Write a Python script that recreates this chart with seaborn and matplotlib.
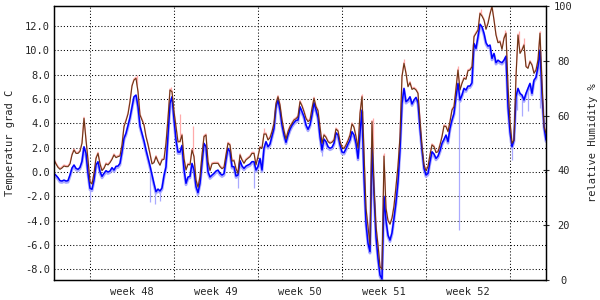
import numpy as np
import pandas as pd
import matplotlib
matplotlib.use("Agg")
import matplotlib.pyplot as plt
import matplotlib.dates as mdates
import matplotlib.transforms as mtransforms
from matplotlib.ticker import FixedLocator, NullFormatter, FixedFormatter
import seaborn as sns

# ---------------- data ----------------
start = "2009-11-20 00:00"
step = "4h"

# brown series (temperature, average)
temp_a = [
    0.99, 0.66, 0.38, 0.22, 0.33, 0.49, 0.44, 0.44, 0.66, 1.40, 1.81, 1.53, 1.53, 1.70, 2.36, 4.41, 2.63, 0.99, -0.79, -0.99,
    -0.11, 1.12, 1.53, 0.66, 0.11, 0.30, 0.66, 0.58, 0.77, 1.04, 1.40, 1.18, 1.26, 1.32, 2.22, 3.73, 4.22, 4.77, 5.78, 7.07, 7.56,
    7.70, 6.60, 4.69, 4.27, 3.86, 2.91, 2.25, 1.48, 0.66, 0.77, 1.26, 0.85, 0.55, 0.99, 1.04, 2.36, 4.41, 6.74, 6.60, 4.96,
    3.73, 2.47, 2.50, 3.04, 1.10, 0.16, 0.63, 0.58, 1.81, 1.26, -0.66, -1.26, -0.38, 1.37, 2.91, 3.04, 0.85, 0.11, 0.66, 0.71, 0.71,
    0.71, 0.44, 0.27, 0.38, 1.40, 2.36, 2.22, 0.90, 0.93, 0.27, -0.11, 1.40, 0.99, 0.71, 0.99, 1.12, 1.26, 1.53, 1.53, 0.58,
    1.26, 2.03, 1.95, 3.12, 3.12, 2.63, 2.82, 3.32, 4.00, 5.64, 6.19, 5.51, 4.27, 3.40, 2.71, 3.32, 3.73, 4.00, 4.27, 4.38, 4.55,
    5.78, 5.43, 4.96, 4.41, 4.14, 4.27, 5.23, 6.06, 5.37, 5.04, 3.73, 2.36, 3.04, 2.85, 2.50, 2.36, 2.44, 2.63, 3.53, 3.37,
    2.50, 2.03, 1.92, 2.22, 2.58, 3.04, 3.95, 3.67, 2.91, 1.95, 4.82, 6.19, 1.53, -2.99, -4.49, -6.00, 4.14, -1.20, -4.49, -6.00, -7.78,
    -8.00, 1.30, -3.00, -4.00, -4.30, -3.80, -2.80, -1.20, 0.50, 2.90, 7.84, 8.93, 8.11, 7.01, 7.34, 6.79, 6.88, 6.74, 6.46, 4.27,
    2.08, 0.57, 0.11, 0.44, 1.40, 2.22, 2.08, 1.59, 1.67, 2.22, 2.90, 3.78, 3.73, 3.31, 4.14, 5.10, 5.37, 6.88, 8.38, 6.74, 7.29,
    7.70, 7.62, 8.33, 8.38, 8.66, 11.12, 11.40, 11.67, 13.04, 12.82, 12.49, 11.73, 12.22, 12.99, 13.59, 12.49, 11.26, 10.63, 10.71, 10.08,
    10.99, 11.40, 7.01, 4.14, 2.36, 2.63, 7.84, 11.26, 9.75, 10.03, 10.44, 8.66, 8.52, 9.07, 8.79, 8.11, 8.38, 9.20, 11.40, 7.29, 3.73, 3.18,
]

# blue series (second temperature)
temp_b = [
    -0.11, -0.27, -0.46, -0.71, -0.74, -0.66, -0.74, -0.71, -0.25, 0.33, 0.58, 0.30, 0.22, 0.38, 0.88, 2.08, 1.53, -0.11, -1.34, -1.42,
    -0.66, 0.58, 0.85, 0.03, -0.36, -0.11, 0.11, 0.00, 0.08, 0.36, 0.16, 0.47, 0.49, 0.71, 1.64, 2.77, 3.18, 3.81, 4.47, 5.34, 6.19,
    6.33, 5.37, 3.78, 3.18, 2.55, 1.81, 1.15, 0.49, -0.25, -0.96, -1.62, -1.40, -1.56, -1.31, -0.30, 0.44, 3.07, 5.64, 6.19, 4.33,
    2.63, 1.64, 1.64, 2.19, 0.22, -0.93, -0.41, -0.36, 0.71, 0.16, -1.20, -1.70, -0.93, 0.71, 2.36, 2.08, 0.03, -0.41, -0.25, -0.11, 0.08,
    0.16, -0.11, -0.25, -0.14, 0.99, 1.95, 1.67, 0.44, 0.44, -0.33, -0.25, 0.93, 0.49, 0.30, 0.49, 0.58, 0.66, 0.85, 0.85, 0.16,
    0.44, 1.12, 0.16, 1.95, 2.50, 2.08, 2.30, 2.96, 3.59, 5.37, 5.92, 5.10, 3.86, 3.04, 2.44, 3.04, 3.51, 3.84, 4.06, 4.25, 4.27,
    5.37, 4.96, 4.55, 3.86, 3.51, 3.86, 4.69, 5.70, 5.10, 4.49, 2.91, 1.81, 2.71, 2.50, 2.08, 1.95, 2.03, 2.36, 3.23, 3.04,
    2.22, 1.64, 1.59, 1.92, 2.30, 2.63, 3.32, 3.04, 2.36, 1.12, 3.18, 5.10, -0.38, -4.22, -5.86, -6.55, 2.08, -1.75, -5.31, -7.10, -8.47,
    -8.80, -2.00, -4.00, -5.20, -5.60, -5.00, -3.80, -2.50, -0.80, 1.80, 5.64, 6.88, 5.78, 5.92, 6.19, 5.59, 5.92, 6.14, 5.70, 3.59,
    1.81, 0.30, -0.25, -0.11, 0.85, 1.67, 1.48, 1.12, 1.31, 1.75, 2.36, 2.68, 3.04, 2.49, 3.59, 4.27, 4.82, 6.19, 7.29, 5.92, 6.33,
    6.88, 6.74, 7.07, 7.07, 7.34, 10.57, 10.16, 11.12, 12.16, 11.94, 11.40, 10.63, 10.35, 10.44, 9.34, 9.75, 8.99, 9.20, 9.07, 8.99,
    9.20, 9.53, 5.37, 3.31, 2.08, 2.63, 6.19, 6.88, 6.46, 6.33, 5.92, 6.46, 6.88, 7.29, 6.46, 7.56, 7.78, 8.66, 10.03, 6.46, 3.73, 2.63,
]

# maximum spikes above the brown line (days after start, value)
max_spike_days = [6.92, 9.75, 10.5, 11.56, 17.5, 25.64, 26.58, 27.5, 29.17, 33.67, 35.58, 37.58, 38.75, 39.17, 40.5]
max_spike_vals = [8.0, 7.0, 4.8, 3.8, 3.6, 6.4, 4.4, 1.6, 9.3, 8.7, 13.4, 11.7, 11.6, 11.0, 11.6]

# minimum spikes below the blue line (days after start, value)
min_spike_days = [3.0, 8.0, 8.42, 8.83, 11.92, 15.33, 16.67, 22.33, 33.72, 38.17, 38.58, 39.0, 39.5, 40.5]
min_spike_vals = [-2.3, -2.5, -2.6, -2.4, -2.0, -1.3, -1.3, 1.3, -4.8, 1.0, 5.1, 4.6, 5.0, 5.3]

week_labels = ["week 48", "week 49", "week 50", "week 51", "week 52"]
temp_ticks = [-8, -6, -4, -2, 0, 2, 4, 6, 8, 10, 12]
hum_ticks = [0, 20, 40, 60, 80, 100]

# ---------------- figure ----------------
times = pd.date_range(start, periods=len(temp_a), freq=step)
df = pd.DataFrame({"time": times, "a": temp_a, "b": temp_b})

sns.set_style("white")
plt.rcParams["font.family"] = ["DejaVu Sans Mono"]
plt.rcParams["axes.unicode_minus"] = False
plt.rcParams["font.size"] = 7.5

fig = plt.figure(figsize=(6, 3), dpi=100)
ax = fig.add_axes([54 / 600, 20 / 300, 492 / 600, 274 / 300])

PINK = "#ffaaaa"
LBLUE = "#aaaaff"
BROWN = "#6a3414"
BLUE = "#0000ff"

t0 = pd.Timestamp(start)
xnum = mdates.date2num(times)

# light halos (min / max bands)
up = mtransforms.offset_copy(ax.transData, fig=fig, x=0, y=1.0, units="dots")
down = mtransforms.offset_copy(ax.transData, fig=fig, x=0, y=-1.5, units="dots")
sns.lineplot(data=df, x="time", y="b", ax=ax, color=LBLUE, linewidth=2.0, transform=down)
sns.lineplot(data=df, x="time", y="a", ax=ax, color=PINK, linewidth=1.0, transform=up)

# spikes
mn_x = mdates.date2num([t0 + pd.Timedelta(days=d) for d in min_spike_days])
ax.vlines(mn_x, min_spike_vals, np.interp(mn_x, xnum, temp_b), color=LBLUE, linewidth=0.9, zorder=2)
mx_x = mdates.date2num([t0 + pd.Timedelta(days=d) for d in max_spike_days])
ax.vlines(mx_x, np.interp(mx_x, xnum, temp_a), max_spike_vals, color=PINK, linewidth=0.9, zorder=2)

sns.lineplot(data=df, x="time", y="b", ax=ax, color=BLUE, linewidth=1.1)
sns.lineplot(data=df, x="time", y="a", ax=ax, color=BROWN, linewidth=0.8)

ax.set_xlim(times[0], times[-1])
ax.set_ylim(-8.88, 13.65)

# x axis: week boundaries (Mondays) as major ticks, labels mid-week
mondays = [t0 + pd.Timedelta(days=3 + 7 * k) for k in range(6)]
mids = [t0 + pd.Timedelta(days=3 + 3.5 + 7 * k) for k in range(len(week_labels))]
ax.xaxis.set_major_locator(FixedLocator(mdates.date2num(mondays)))
ax.xaxis.set_major_formatter(NullFormatter())
ax.xaxis.set_minor_locator(FixedLocator(mdates.date2num(mids)))
ax.xaxis.set_minor_formatter(FixedFormatter(week_labels))
ax.tick_params(axis="x", which="major", direction="inout", length=5, width=0.8, color="black")
ax.tick_params(axis="x", which="minor", length=0, pad=5, labelsize=7.5)

ax.set_yticks(temp_ticks)
ax.set_yticklabels([f"{v:.1f}" for v in temp_ticks])
ax.tick_params(axis="y", length=0, pad=3, labelsize=7.5)

ax.grid(True, which="major", color="black", linestyle=(0, (1, 2)), linewidth=0.75)
for s in ax.spines.values():
    s.set_color("black")
    s.set_linewidth(0.9)

ax.set_xlabel("")
ax.set_ylabel("Temperatur grad C", fontsize=7.5, labelpad=7)

ax2 = ax.twinx()
ax2.set_ylim(0, 100)
ax2.set_yticks(hum_ticks)
ax2.set_yticklabels([str(v) for v in hum_ticks])
for lab in ax2.get_yticklabels():
    lab.set_horizontalalignment("center")
ax2.tick_params(axis="y", direction="inout", length=5, width=0.8, pad=10, labelsize=7.5)
ax2.set_ylabel("relative Humidity %", fontsize=7.5, labelpad=11)
ax2.grid(False)
for s in ax2.spines.values():
    s.set_color("black")
    s.set_linewidth(0.9)

fig.savefig("out.png", dpi=100, facecolor="white")
